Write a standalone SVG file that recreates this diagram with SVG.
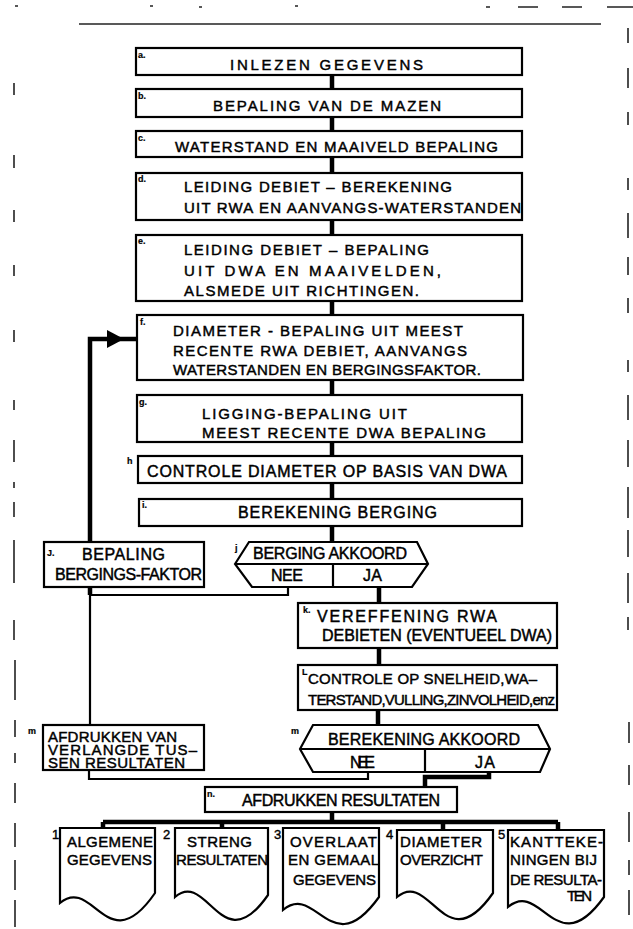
<svg xmlns="http://www.w3.org/2000/svg" width="633" height="929" viewBox="0 0 633 929">
<style>
text { font-family: "Liberation Sans", Arial, sans-serif; fill: #000; stroke: #000; stroke-width: 0.45; }
.t { font-size: 15px; }
.u { font-size: 16px; }
.d { font-size: 15px; }
.lbl { font-size: 9px; font-weight: bold; stroke-width: 0.2; }
.num { font-size: 13px; stroke-width: 0.4; }
.box { fill: #fff; stroke: #000; stroke-width: 2.2; }
.thick { fill: none; stroke: #000; stroke-width: 4.5; }
.thin { fill: none; stroke: #000; stroke-width: 2.2; }
.art { fill: none; stroke: #222; stroke-width: 1.6; }
</style>
<rect width="633" height="929" fill="#fff"/>

<g id="artifacts">
  <line class="art" x1="79" y1="24" x2="601" y2="24"/>
  <path class="art" d="M518,7 H538 M562,7 H582 M607,7 H633 M486,7 H490 M295,6 H298 M199,7 H202 M150,6 H153 M15,6 H18"/>
  <path class="art" stroke-width="2" d="M628,28 V43 M628,68 V88 M628,112 V125 M628,178 V190 M628,213 V238 M628,257 V275 M628,298 V313 M628,360 V372 M628,395 V420 M628,440 V467 M628,487 V518 M628,530 V557 M628,573 V603 M628,617 V630 M629,722 V743 M629,765 V785 M629,812 V842 M629,860 V875 M629,890 V915"/>
  <path class="art" d="M14,83 V95 M14,155 V168 M14,210 V222 M14,265 V276 M14,330 V342 M14,400 V410 M14,440 V462 M14,482 V488 M14,502 V517 M14,540 V583 M14,620 V640 M15,660 V700 M15,720 V737 M15,753 V763 M15,783 V803 M15,823 V847 M15,860 V890 M15,900 V927"/>
</g>

<g id="connectors">
  <path class="thick" d="M332,75 V89 M332,117 V131 M332,157 V173 M332,220 V235 M332,301 V315 M332,380 V395 M332,442 V456 M332,483 V499 M332,526 V542"/>
  <path class="thick" d="M379,587 V603 M379,648 V665 M378,710 V725"/>
  <path class="thick" d="M90,542 V339 H137"/>
  <polygon points="107,330 124,339 107,348" fill="#000"/>
  <path class="thick" d="M90,587 V595"/>
  <path class="thin" d="M90,595 H288 V587 M90,595 V725"/>
  <path class="thin" d="M89,770 V779 H368 V772"/>
  <path class="thick" d="M489,772 V777 H425 V787"/>
  <path class="thick" d="M332,812 V822 M103,822 H558 M103,822 V828 M222,822 V828 M443,822 V830 M558,822 V830"/>
</g>

<g id="node-a">
  <rect class="box" x="136" y="48" width="386" height="27"/>
  <text class="lbl" x="138" y="58">a.</text>
  <text class="t" x="230" y="70" textLength="193" lengthAdjust="spacing">INLEZEN  GEGEVENS</text>
</g>
<g id="node-b">
  <rect class="box" x="136" y="89" width="386" height="28"/>
  <text class="lbl" x="138" y="99">b.</text>
  <text class="t" x="213" y="111" textLength="228" lengthAdjust="spacing">BEPALING VAN DE MAZEN</text>
</g>
<g id="node-c">
  <rect class="box" x="136" y="131" width="386" height="26"/>
  <text class="lbl" x="138" y="141">c.</text>
  <text class="t" x="175" y="152" textLength="323" lengthAdjust="spacing">WATERSTAND  EN  MAAIVELD  BEPALING</text>
</g>
<g id="node-d">
  <rect class="box" x="136" y="173" width="386" height="47"/>
  <text class="lbl" x="138" y="182">d.</text>
  <text class="t" x="184" y="192" textLength="268" lengthAdjust="spacing">LEIDING DEBIET – BEREKENING</text>
  <text class="t" x="184" y="213" textLength="337" lengthAdjust="spacing">UIT  RWA  EN AANVANGS-WATERSTANDEN</text>
</g>
<g id="node-e">
  <rect class="box" x="136" y="235" width="386" height="66"/>
  <text class="lbl" x="138" y="244">e.</text>
  <text class="t" x="184" y="255" textLength="245" lengthAdjust="spacing">LEIDING DEBIET – BEPALING</text>
  <text class="t" x="184" y="276" textLength="257" lengthAdjust="spacing">UIT DWA  EN  MAAIVELDEN,</text>
  <text class="t" x="184" y="296" textLength="235" lengthAdjust="spacing">ALSMEDE  UIT RICHTINGEN.</text>
</g>
<g id="node-f">
  <rect class="box" x="137" y="315" width="386" height="65"/>
  <text class="lbl" x="140" y="325">f.</text>
  <text class="t" x="173" y="336" textLength="290" lengthAdjust="spacing">DIAMETER - BEPALING  UIT  MEEST</text>
  <text class="t" x="173" y="356" textLength="294" lengthAdjust="spacing">RECENTE  RWA DEBIET, AANVANGS</text>
  <text class="t" x="173" y="375" font-size="14.5" textLength="308" lengthAdjust="spacing">WATERSTANDEN  EN  BERGINGSFAKTOR.</text>
</g>
<g id="node-g">
  <rect class="box" x="137" y="395" width="385" height="47"/>
  <text class="lbl" x="139" y="405">g.</text>
  <text class="t" x="202" y="419" textLength="205" lengthAdjust="spacing">LIGGING-BEPALING  UIT</text>
  <text class="t" x="202" y="438" textLength="284" lengthAdjust="spacing">MEEST  RECENTE  DWA  BEPALING</text>
</g>
<g id="node-h">
  <rect class="box" x="138" y="456" width="384" height="27"/>
  <text class="lbl" x="127" y="464">h</text>
  <text class="u" x="147" y="477" textLength="360" lengthAdjust="spacing">CONTROLE  DIAMETER  OP  BASIS  VAN  DWA</text>
</g>
<g id="node-i">
  <rect class="box" x="139" y="499" width="383" height="27"/>
  <text class="lbl" x="142" y="508">i.</text>
  <text class="u" x="238" y="518" textLength="199" lengthAdjust="spacing">BEREKENING  BERGING</text>
</g>
<g id="node-j-berging">
  <rect class="box" x="44" y="542" width="160" height="45"/>
  <text class="lbl" x="47" y="556" font-size="11">J.</text>
  <text class="u" x="82" y="560" textLength="83" lengthAdjust="spacing">BEPALING</text>
  <text class="u" x="55" y="580" font-size="15" textLength="147" lengthAdjust="spacing">BERGINGS-FAKTOR</text>
</g>
<g id="node-j-akkoord">
  <polygon class="box" points="235,564 249,542 417,542 428,564 412,587 252,587"/>
  <line class="thin" x1="235" y1="564" x2="428" y2="564"/>
  <line class="thin" x1="333" y1="564" x2="333" y2="587"/>
  <text class="lbl" x="235" y="551" font-size="10">j</text>
  <text class="u" x="253" y="559" font-size="15" textLength="154" lengthAdjust="spacing">BERGING AKKOORD</text>
  <text class="u" x="271" y="581" textLength="32" lengthAdjust="spacing">NEE</text>
  <text class="u" x="363" y="581" textLength="19" lengthAdjust="spacing">JA</text>
</g>
<g id="node-k">
  <rect class="box" x="298" y="603" width="259" height="45"/>
  <text class="lbl" x="303" y="613">k.</text>
  <text class="u" x="317" y="622" textLength="180" lengthAdjust="spacing">VEREFFENING   RWA</text>
  <text class="u" x="322" y="641" font-size="15.5" textLength="230" lengthAdjust="spacing">DEBIETEN (EVENTUEEL  DWA)</text>
</g>
<g id="node-l">
  <rect class="box" x="298" y="665" width="259" height="45"/>
  <text class="lbl" x="302" y="675">L</text>
  <text class="t" x="308" y="684" font-size="14" textLength="229" lengthAdjust="spacing">CONTROLE OP SNELHEID,WA–</text>
  <text class="t" x="308" y="705" font-size="13.5" textLength="247" lengthAdjust="spacing">TERSTAND,VULLING,ZINVOLHEID,enz</text>
</g>
<g id="node-m-afdrukken">
  <rect class="box" x="43" y="725" width="161" height="45"/>
  <text class="lbl" x="28" y="734" font-size="11">m</text>
  <text class="t" x="48" y="742" font-size="13" textLength="129" lengthAdjust="spacing">AFDRUKKEN VAN</text>
  <text class="t" x="48" y="755" font-size="13" textLength="149" lengthAdjust="spacing">VERLANGDE  TUS–</text>
  <text class="t" x="48" y="768" font-size="13" textLength="137" lengthAdjust="spacing">SEN RESULTATEN</text>
</g>
<g id="node-m-akkoord">
  <polygon class="box" points="300,749 313,725 538,725 550,749 540,772 313,772"/>
  <line class="thin" x1="300" y1="749" x2="550" y2="749"/>
  <line class="thin" x1="425" y1="749" x2="425" y2="772"/>
  <text class="lbl" x="291" y="734" font-size="11">m</text>
  <text class="u" x="328" y="745" textLength="192" lengthAdjust="spacing">BEREKENING  AKKOORD</text>
  <text class="u" x="350" y="768" textLength="25" lengthAdjust="spacing">NEE</text>
  <text class="u" x="475" y="768" textLength="20" lengthAdjust="spacing">JA</text>
</g>
<g id="node-n">
  <rect class="box" x="205" y="787" width="252" height="25"/>
  <text class="lbl" x="207" y="797">n.</text>
  <text class="u" x="242" y="806" font-size="15" textLength="198" lengthAdjust="spacing">AFDRUKKEN  RESULTATEN</text>
</g>
<g id="doc-1">
  <path class="box" d="M60,828 H155 V893 C107.5,962 93.3,875 60,903 Z"/>
  <text class="num" x="52" y="839">1</text>
  <text class="d" x="67" y="847" textLength="86" lengthAdjust="spacing">ALGEMENE</text>
  <text class="d" x="67" y="865" textLength="85" lengthAdjust="spacing">GEGEVENS</text>
</g>
<g id="doc-2">
  <path class="box" d="M175,828 H268 V895 C221.5,962 207.6,869 175,897 Z"/>
  <text class="num" x="163" y="839">2</text>
  <text class="d" x="187" y="847" textLength="65" lengthAdjust="spacing">STRENG</text>
  <text class="d" x="176" y="865" font-size="14" textLength="92" lengthAdjust="spacing">RESULTATEN</text>
</g>
<g id="doc-3">
  <path class="box" d="M283,828 H379 V897 C331,964 316.6,882 283,910 Z"/>
  <text class="num" x="274" y="839">3</text>
  <text class="d" x="290" y="847" textLength="87" lengthAdjust="spacing">OVERLAAT</text>
  <text class="d" x="288" y="865" textLength="91" lengthAdjust="spacing">EN GEMAAL</text>
  <text class="d" x="293" y="885" textLength="83" lengthAdjust="spacing">GEGEVENS</text>
</g>
<g id="doc-4">
  <path class="box" d="M397,830 H493 V893 C445,962 430.6,869 397,897 Z"/>
  <text class="num" x="386" y="839">4</text>
  <text class="d" x="400" y="847" textLength="82" lengthAdjust="spacing">DIAMETER</text>
  <text class="d" x="400" y="865" font-size="14.5" textLength="83" lengthAdjust="spacing">OVERZICHT</text>
</g>
<g id="doc-5">
  <path class="box" d="M508,830 H604 V897 C556,964 541.6,879 508,907 Z"/>
  <text class="num" x="498" y="839">5</text>
  <text class="d" x="510" y="847" textLength="93" lengthAdjust="spacing">KANTTEKE-</text>
  <text class="d" x="510" y="865" textLength="87" lengthAdjust="spacing">NINGEN BIJ</text>
  <text class="d" x="510" y="885" font-size="14" textLength="92" lengthAdjust="spacing">DE RESULTA-</text>
  <text class="d" x="567" y="901" textLength="25" lengthAdjust="spacing">TEN</text>
</g>
</svg>
